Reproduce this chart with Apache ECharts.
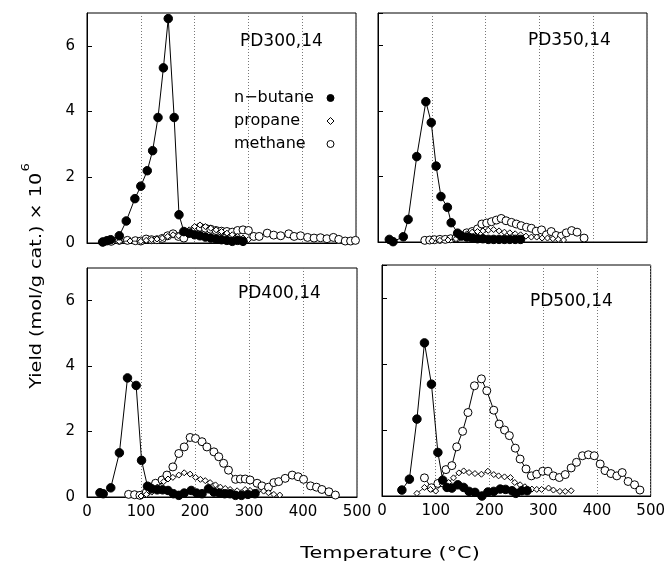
<!DOCTYPE html>
<html>
<head>
<meta charset="utf-8">
<script src="https://cdn.jsdelivr.net/npm/echarts@6/dist/echarts.min.js"></script>
<style>html,body{margin:0;padding:0;background:#fff;}#c{width:668px;height:568px;}</style>
</head>
<body>
<div id="c"></div>
<script>
// ---- Data (Temperature °C, Yield ×10^6 mol/g cat.) ----
const panelNames = ['PD300,14', 'PD350,14', 'PD400,14', 'PD500,14'];
const seriesNames = ['n\u2212butane', 'propane', 'methane'];
const xTicks = [0, 100, 200, 300, 400, 500];
const yTicks = [0, 2, 4, 6];

// PD300,14
const pd300_butane_T = [29, 37, 44, 60, 73, 89, 100, 112, 122, 132, 142, 151, 162, 171, 180, 190, 200, 210, 220, 230, 240, 250, 260, 270, 280, 290];
const pd300_butane_Y = [0.03, 0.07, 0.1, 0.22, 0.67, 1.35, 1.73, 2.2, 2.81, 3.82, 5.33, 6.83, 3.82, 0.86, 0.35, 0.3, 0.25, 0.22, 0.18, 0.15, 0.12, 0.1, 0.08, 0.05, 0.08, 0.05];
const pd300_propane_T = [60, 80, 100, 110, 120, 130, 140, 150, 160, 170, 180, 190, 200, 210, 220, 230, 240, 250, 260, 270, 280, 290, 300];
const pd300_propane_Y = [0.05, 0.06, 0.05, 0.08, 0.1, 0.12, 0.15, 0.2, 0.25, 0.22, 0.3, 0.4, 0.5, 0.55, 0.5, 0.45, 0.4, 0.35, 0.3, 0.25, 0.2, 0.15, 0.1];
const pd300_methane_T = [30, 45, 60, 75, 90, 100, 110, 120, 130, 140, 150, 160, 170, 180, 190, 200, 210, 220, 230, 240, 250, 260, 270, 280, 290, 300, 310, 320, 335, 347, 360, 375, 385, 397, 410, 422, 434, 446, 458, 468, 480, 490, 499];
const pd300_methane_Y = [0.03, 0.05, 0.08, 0.08, 0.07, 0.06, 0.12, 0.1, 0.1, 0.14, 0.22, 0.28, 0.2, 0.15, 0.3, 0.42, 0.48, 0.45, 0.42, 0.38, 0.36, 0.35, 0.33, 0.38, 0.4, 0.38, 0.2, 0.2, 0.3, 0.24, 0.22, 0.28, 0.2, 0.22, 0.17, 0.15, 0.16, 0.13, 0.17, 0.11, 0.06, 0.06, 0.08];

// PD350,14
const pd350_butane_T = [21, 28, 47, 56, 72, 89, 99, 108, 117, 129, 136, 148, 155, 165, 175, 185, 195, 205, 215, 225, 235, 245, 255, 265];
const pd350_butane_Y = [0.08, 0.01, 0.16, 0.69, 2.61, 4.29, 3.65, 2.32, 1.39, 1.06, 0.59, 0.27, 0.18, 0.15, 0.12, 0.1, 0.1, 0.08, 0.08, 0.08, 0.08, 0.08, 0.08, 0.08];
const pd350_propane_T = [100, 115, 130, 145, 155, 165, 175, 185, 195, 205, 215, 225, 235, 245, 255, 265, 275, 285, 295, 305, 315, 325, 335, 345];
const pd350_propane_Y = [0.03, 0.05, 0.06, 0.1, 0.2, 0.25, 0.3, 0.32, 0.34, 0.36, 0.38, 0.34, 0.3, 0.28, 0.25, 0.22, 0.18, 0.15, 0.15, 0.12, 0.12, 0.1, 0.08, 0.06];
const pd350_methane_T = [87, 96, 105, 115, 125, 135, 145, 155, 165, 175, 185, 193, 202, 211, 220, 229, 238, 248, 257, 266, 276, 285, 294, 304, 313, 322, 331, 341, 350, 360, 370, 383];
const pd350_methane_Y = [0.05, 0.06, 0.07, 0.08, 0.08, 0.1, 0.12, 0.2, 0.28, 0.32, 0.4, 0.55, 0.58, 0.62, 0.67, 0.72, 0.65, 0.6, 0.55, 0.5, 0.45, 0.42, 0.33, 0.37, 0.22, 0.32, 0.2, 0.18, 0.28, 0.35, 0.3, 0.12];

// PD400,14
const pd400_butane_T = [24, 30, 44, 60, 75, 91, 101, 112, 120, 130, 140, 150, 160, 170, 180, 193, 203, 213, 225, 235, 245, 255, 265, 275, 286, 298, 311];
const pd400_butane_Y = [0.13, 0.1, 0.28, 1.35, 3.64, 3.41, 1.12, 0.33, 0.25, 0.22, 0.22, 0.2, 0.1, 0.05, 0.12, 0.2, 0.12, 0.1, 0.25, 0.15, 0.12, 0.1, 0.1, 0.05, 0.05, 0.08, 0.1];
const pd400_propane_T = [100, 110, 120, 130, 142, 150, 159, 170, 180, 191, 201, 210, 219, 228, 238, 247, 256, 265, 278, 293, 302, 315, 327, 336, 346, 357];
const pd400_propane_Y = [0.03, 0.08, 0.15, 0.3, 0.47, 0.55, 0.6, 0.67, 0.74, 0.7, 0.6, 0.54, 0.5, 0.44, 0.37, 0.3, 0.26, 0.23, 0.19, 0.23, 0.2, 0.16, 0.18, 0.13, 0.08, 0.06];
const pd400_methane_T = [77, 88, 98, 110, 118, 127, 139, 148, 159, 170, 180, 191, 201, 213, 222, 235, 244, 253, 262, 275, 284, 293, 302, 315, 324, 336, 346, 355, 367, 380, 391, 401, 414, 425, 435, 448, 460];
const pd400_methane_Y = [0.08, 0.07, 0.05, 0.15, 0.3, 0.42, 0.52, 0.67, 0.92, 1.33, 1.53, 1.82, 1.79, 1.69, 1.53, 1.38, 1.23, 1.03, 0.82, 0.54, 0.55, 0.55, 0.52, 0.42, 0.34, 0.3, 0.44, 0.47, 0.57, 0.67, 0.62, 0.54, 0.34, 0.3, 0.23, 0.16, 0.06];

// PD500,14
const pd500_butane_T = [37, 51, 65, 79, 92, 104, 113, 121, 130, 141, 152, 162, 173, 186, 197, 208, 220, 230, 242, 249, 260, 270];
const pd500_butane_Y = [0.18, 0.51, 2.33, 4.64, 3.39, 1.32, 0.48, 0.26, 0.24, 0.34, 0.26, 0.14, 0.11, 0.0, 0.12, 0.14, 0.21, 0.2, 0.16, 0.08, 0.16, 0.16];
const pd500_propane_T = [65, 79, 90, 100, 112, 124, 133, 143, 152, 162, 173, 185, 197, 208, 217, 228, 239, 247, 257, 266, 279, 288, 297, 310, 319, 331, 341, 352];
const pd500_propane_Y = [0.08, 0.26, 0.2, 0.15, 0.36, 0.41, 0.55, 0.7, 0.76, 0.71, 0.68, 0.66, 0.75, 0.65, 0.61, 0.58, 0.56, 0.41, 0.34, 0.28, 0.21, 0.2, 0.2, 0.24, 0.18, 0.14, 0.14, 0.16];
const pd500_methane_T = [79, 92, 104, 119, 130, 139, 150, 160, 172, 185, 195, 208, 218, 228, 237, 248, 257, 268, 278, 288, 299, 309, 319, 330, 341, 352, 362, 373, 384, 395, 406, 415, 426, 437, 447, 458, 470, 480];
const pd500_methane_Y = [0.55, 0.25, 0.38, 0.8, 0.92, 1.49, 1.96, 2.53, 3.34, 3.55, 3.19, 2.6, 2.18, 2.0, 1.83, 1.45, 1.12, 0.82, 0.61, 0.66, 0.75, 0.75, 0.61, 0.56, 0.65, 0.85, 1.02, 1.22, 1.25, 1.22, 0.97, 0.77, 0.68, 0.61, 0.71, 0.44, 0.34, 0.18];

const panels = [
  {butane: [pd300_butane_T, pd300_butane_Y], propane: [pd300_propane_T, pd300_propane_Y], methane: [pd300_methane_T, pd300_methane_Y]},
  {butane: [pd350_butane_T, pd350_butane_Y], propane: [pd350_propane_T, pd350_propane_Y], methane: [pd350_methane_T, pd350_methane_Y]},
  {butane: [pd400_butane_T, pd400_butane_Y], propane: [pd400_propane_T, pd400_propane_Y], methane: [pd400_methane_T, pd400_methane_Y]},
  {butane: [pd500_butane_T, pd500_butane_Y], propane: [pd500_propane_T, pd500_propane_Y], methane: [pd500_methane_T, pd500_methane_Y]}
];

// ---- Layout ----
const FONT = 'DejaVu Sans';
const grids = [
  {left: 87, top: 13, width: 269, height: 230},
  {left: 378, top: 13, width: 269, height: 229},
  {left: 87, top: 268, width: 270, height: 229},
  {left: 382, top: 265, width: 269, height: 231}
];
const labelPos = [[240, 42], [528, 41], [238, 294], [530, 302]];

const pair = (T, Y) => T.map((t, i) => [t, Y[i]]);

const series = [];
panels.forEach((p, i) => {
  series.push({
    type: 'line', name: seriesNames[2], xAxisIndex: i, yAxisIndex: i,
    data: pair(p.methane[0], p.methane[1]),
    symbol: 'circle', symbolSize: 8, showSymbol: true,
    lineStyle: {color: '#000', width: 1},
    itemStyle: {color: '#fff', borderColor: '#000', borderWidth: 1},
    z: 2, animation: false, silent: true
  });
  series.push({
    type: 'line', name: seriesNames[1], xAxisIndex: i, yAxisIndex: i,
    data: pair(p.propane[0], p.propane[1]),
    symbol: 'diamond', symbolSize: 6, showSymbol: true,
    lineStyle: {color: '#000', width: 0.8},
    itemStyle: {color: '#fff', borderColor: '#000', borderWidth: 1},
    z: 3, animation: false, silent: true
  });
  series.push({
    type: 'line', name: seriesNames[0], xAxisIndex: i, yAxisIndex: i,
    data: pair(p.butane[0], p.butane[1]),
    symbol: 'circle', symbolSize: 8.5, showSymbol: true,
    lineStyle: {color: '#000', width: 1},
    itemStyle: {color: '#000', borderColor: '#000', borderWidth: 1},
    z: 4, animation: false, silent: true
  });
});

const option = {
  backgroundColor: '#fff',
  animation: false,
  grid: grids.map(g => Object.assign({show: true, borderColor: '#000', borderWidth: 1, backgroundColor: 'transparent', containLabel: false}, g)),
  xAxis: grids.map((g, i) => ({
    type: 'value', gridIndex: i, min: xTicks[0], max: xTicks[xTicks.length - 1], interval: 100,
    axisLine: {show: true, lineStyle: {color: '#000', width: 1}},
    axisTick: {show: false},
    axisLabel: {show: i >= 2, color: '#000', fontFamily: FONT, fontSize: 15, margin: 8},
    splitLine: {show: true, lineStyle: {color: '#777', width: 1, type: [1, 2]}}
  })),
  yAxis: grids.map((g, i) => ({
    type: 'value', gridIndex: i, min: 0, max: 7, interval: 2,
    axisLine: {show: true, lineStyle: {color: '#000', width: 1}},
    axisTick: {show: true, inside: true, length: 5, lineStyle: {color: '#000'}},
    axisLabel: {show: i % 2 === 0, showMaxLabel: false, color: '#000', fontFamily: FONT, fontSize: 15, margin: 12,
      formatter: v => (yTicks.indexOf(v) >= 0 ? String(v) : '')},
    splitLine: {show: false}
  })),
  legend: {
    orient: 'vertical', left: 229, top: 85, align: 'right', itemGap: 7,
    itemWidth: 7, itemHeight: 7, selectedMode: false,
    textStyle: {
      fontFamily: FONT, fontSize: 16, color: '#000',
      rich: {t: {fontFamily: FONT, fontSize: 16, color: '#000', width: 88, align: 'left'}}
    },
    formatter: name => '{t|' + name + '}',
    data: [
      {name: seriesNames[0], icon: 'circle', itemStyle: {color: '#000', borderColor: '#000', borderWidth: 1}},
      {name: seriesNames[1], icon: 'diamond', itemStyle: {color: '#fff', borderColor: '#000', borderWidth: 1}},
      {name: seriesNames[2], icon: 'circle', itemStyle: {color: '#fff', borderColor: '#000', borderWidth: 1}}
    ]
  },
  graphic: [
    ...panelNames.map((n, i) => ({
      type: 'text', x: labelPos[i][0], y: labelPos[i][1], silent: true,
      style: {text: n, fontFamily: FONT, fontSize: 17, fill: '#000', align: 'left', verticalAlign: 'middle'}
    })),
    {
      type: 'text', x: 390, y: 554, scaleX: 1.3, silent: true,
      style: {text: 'Temperature (°C)', fontFamily: FONT, fontSize: 16, fill: '#000', align: 'center', verticalAlign: 'middle'}
    },
    {
      type: 'text', x: 33, y: 276, rotation: Math.PI / 2, scaleX: 1.2, silent: true,
      style: {
        text: '{m|Yield (mol/g cat.) \u00d7 10}{s|6}',
        align: 'center', verticalAlign: 'middle', fill: '#000',
        rich: {
          m: {fontFamily: FONT, fontSize: 16, fill: '#000', lineHeight: 24, verticalAlign: 'bottom'},
          s: {fontFamily: FONT, fontSize: 11, fill: '#000', verticalAlign: 'top', padding: [0, 0, 0, 1]}
        }
      }
    }
  ],
  series: series
};

const chart = echarts.init(document.getElementById('c'), null, {renderer: 'canvas'});
chart.setOption(option);
</script>
</body>
</html>
